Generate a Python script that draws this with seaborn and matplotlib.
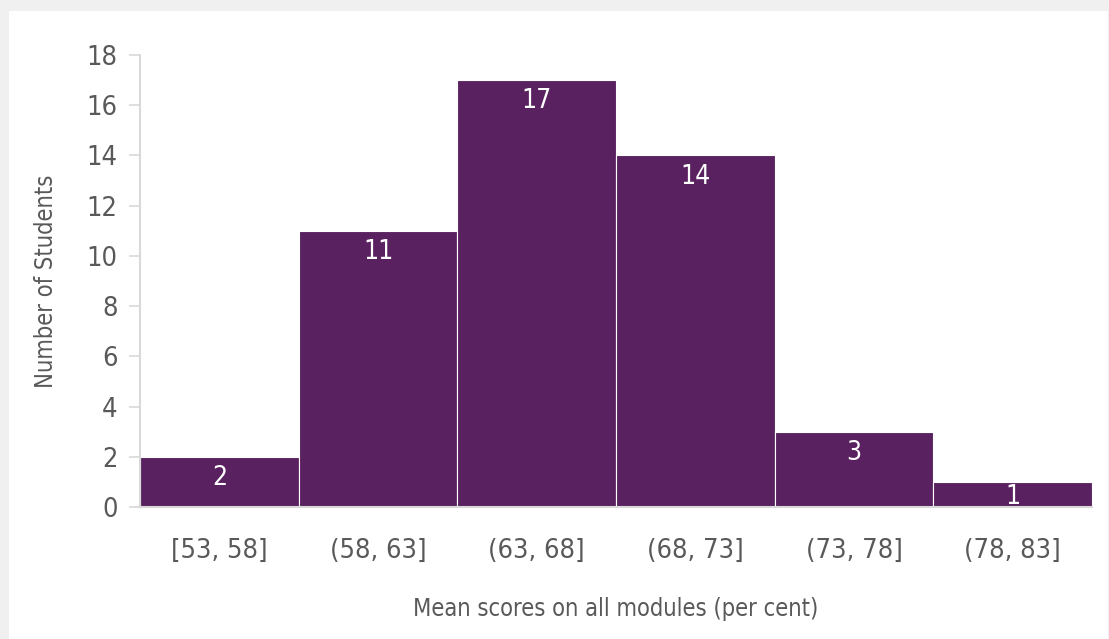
import matplotlib
matplotlib.use("Agg")
import matplotlib.pyplot as plt
import seaborn as sns
from matplotlib.patches import Rectangle

# data
bins = ["[53, 58]", "(58, 63]", "(63, 68]", "(68, 73]", "(73, 78]", "(78, 83]"]
counts = [2, 11, 17, 14, 3, 1]

BAR_COLOR = "#5a2160"
TEXT_COLOR = "#595959"
AXIS_COLOR = "#d9d9d9"

sns.set_style("white")
plt.rcParams["font.family"] = ["DejaVu Sans"]
plt.rcParams["font.stretch"] = "condensed"

fig = plt.figure(figsize=(11.09, 6.39), dpi=100, facecolor="#f0f0f0")
# white panel behind the chart
fig.patches.append(Rectangle((9 / 1109, 0), 1099 / 1109, 628 / 639,
                             transform=fig.transFigure, facecolor="white",
                             edgecolor="none", zorder=-5))
ax = fig.add_axes([140 / 1109, (639 - 507) / 639, 952 / 1109, 452 / 639])
ax.set_facecolor("none")

sns.barplot(x=bins, y=counts, width=1.0, color=BAR_COLOR, saturation=1,
            edgecolor="white", linewidth=0.8, ax=ax)

for i, v in enumerate(counts):
    # small bars keep their label inside the bar
    ax.annotate(str(v), (i, max(v, 1.25)), xytext=(0, -6), textcoords="offset points",
                ha="center", va="top", color="white", fontsize=19)

ax.set_ylim(0, 18)
ax.set_xlim(-0.5, len(bins) - 0.5)
ax.set_yticks(range(0, 19, 2))
ax.set_xticks(range(len(bins)))
ax.set_xticklabels(bins)
ax.set_xticks([i - 0.5 for i in range(len(bins) + 1)], minor=True)

ax.tick_params(axis="x", which="major", length=0, pad=22, labelsize=19.5, labelcolor=TEXT_COLOR)
ax.tick_params(axis="x", which="minor", length=8, width=1.2, color=AXIS_COLOR, direction="out")
ax.tick_params(axis="y", length=8, width=1.2, color=AXIS_COLOR, direction="out", pad=8,
               labelsize=19.5, labelcolor=TEXT_COLOR, left=True)

for side in ["top", "right"]:
    ax.spines[side].set_visible(False)
for side in ["left", "bottom"]:
    ax.spines[side].set_color(AXIS_COLOR)
    ax.spines[side].set_linewidth(1.5)

ax.set_xlabel("Mean scores on all modules (per cent)", fontsize=17, color=TEXT_COLOR, labelpad=24)
ax.set_ylabel("Number of Students", fontsize=17, color=TEXT_COLOR, labelpad=21)

fig.savefig("out.png", dpi=100, facecolor=fig.get_facecolor())
